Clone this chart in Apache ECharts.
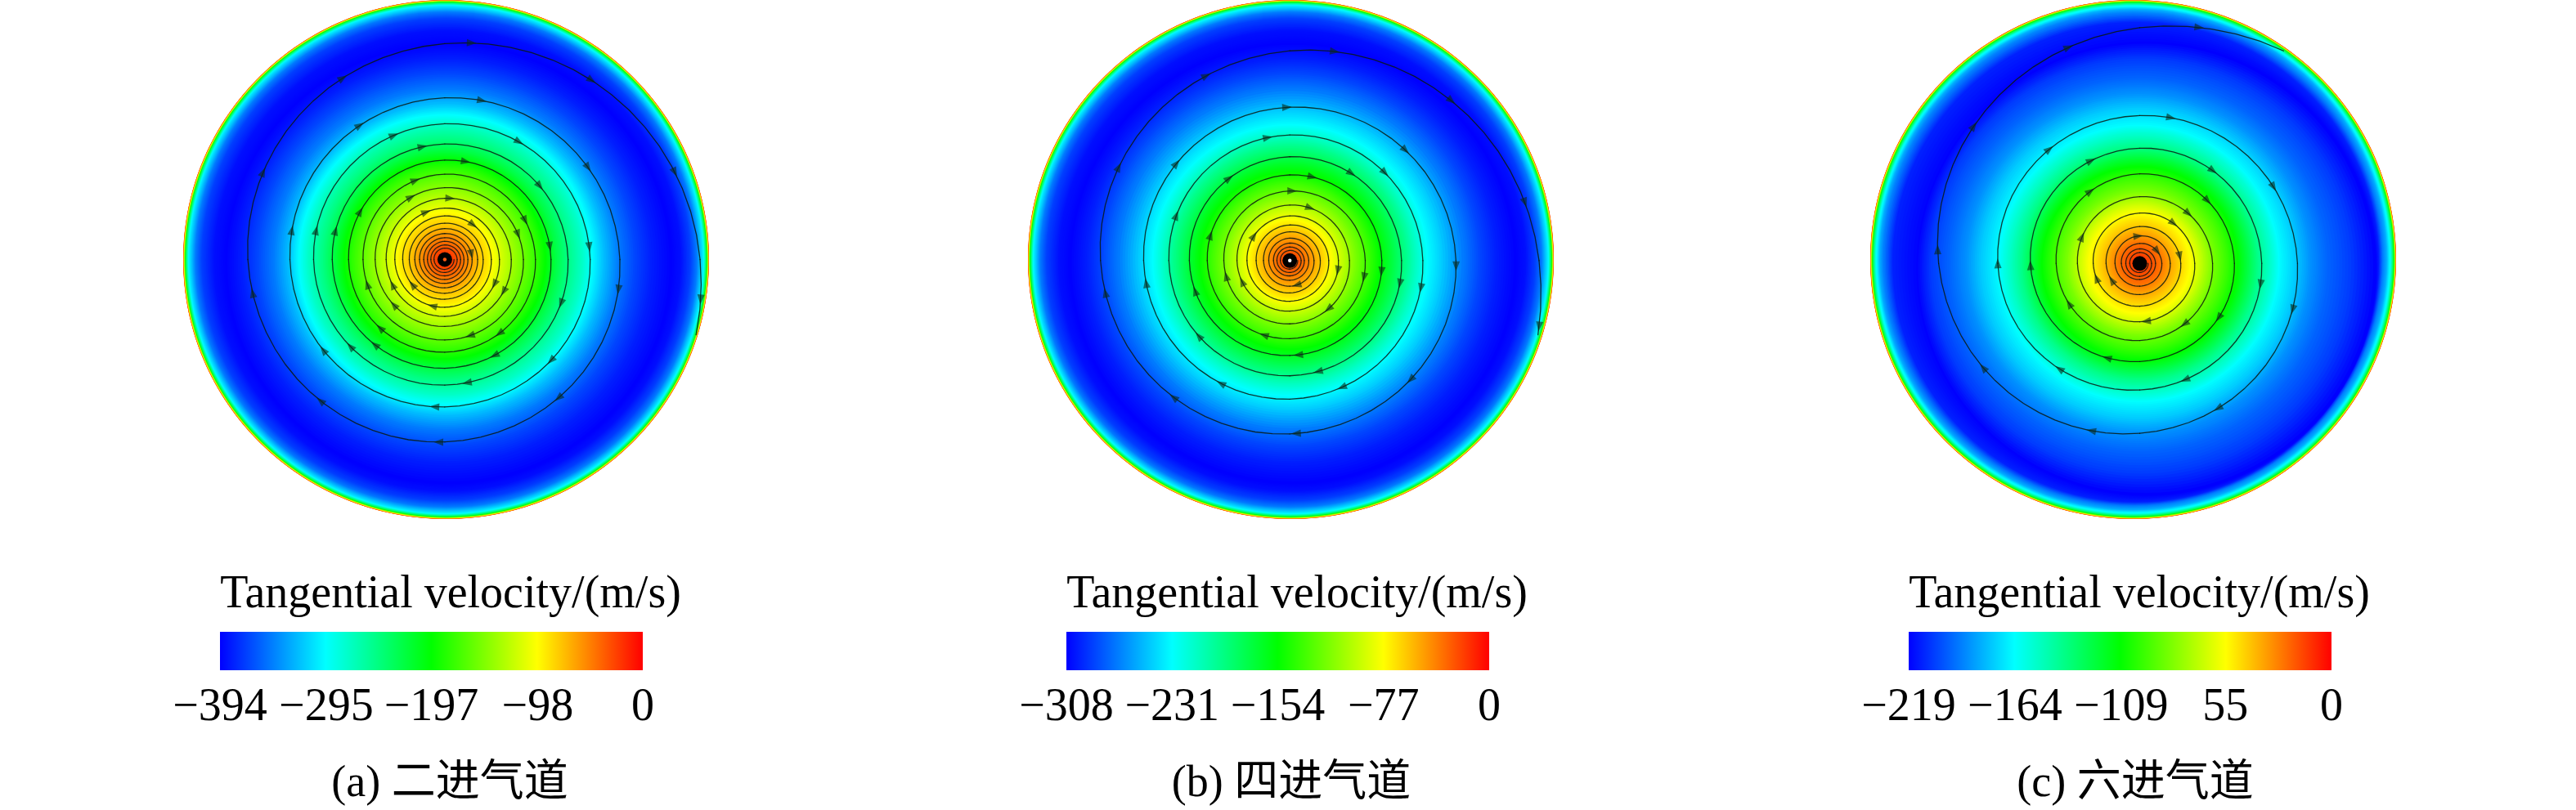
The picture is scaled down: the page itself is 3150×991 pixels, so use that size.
<!DOCTYPE html>
<html><head><meta charset="utf-8">
<style>html,body{margin:0;padding:0;background:#fff}#c{width:3150px;height:991px}</style>
<script src="https://cdn.jsdelivr.net/npm/echarts@6/dist/echarts.min.js"></script>
</head><body><div id="c"></div>
<script>
const captions = ['(a) 二进气道', '(b) 四进气道', '(c) 六进气道'];
const legendTitle = 'Tangential velocity/(m/s)';
const ticksA = [-394, -295, -197, -98, 0];
const ticksB = [-308, -231, -154, -77, 0];
const ticksC = [-219, -164, -109, -55, 0];
const tickLabelsA = ['−394', '−295', '−197', '−98', '0'];
const tickLabelsB = ['−308', '−231', '−154', '−77', '0'];
const tickLabelsC = ['−219', '−164', '−109', '55', '0'];
const colorStops = [[0, '#0000ff'], [0.25, '#00ffff'], [0.5, '#00ff00'], [0.75, '#ffff00'], [1, '#ff0000']];

// radius, colour level (0 = min velocity, 1 = 0 m/s), ring centre x, y; outermost first
const fieldA = [[1,.93],[.9975,.84],[.995,.64],[.99,.42],[.98,.24],[.955,.12],[.93,.06],[.89,.015,.005,.005],[.85,0,.01,.015],[.78,.03,.003,.005],[.72,.07],[.66,.12],[.60,.19],[.56,.25,-.002,0],[.52,.31,-.003,0],[.47,.37,-.004,0],[.42,.44,-.005,0],[.385,.5,-.005,0],[.35,.55,-.005,0],[.30,.61,-.005,0],[.25,.67,-.005,0],[.20,.73,-.005,0],[.17,.77,-.005,0],[.13,.81,-.005,0],[.10,.85,-.005,0],[.07,.89,-.005,0],[.04,.93,-.005,0],[0,.97,-.005,0]].map(r => [r[0], r[1], r[2] || 0, r[3] || 0]);
const fieldB = [[1,.93],[.9975,.84],[.995,.64],[.99,.42],[.98,.24],[.955,.12],[.93,.06],[.89,.015,.005,.005],[.85,0,.008,.015],[.78,.03,.003,.005],[.72,.07],[.66,.12],[.58,.2,-.002,.002],[.525,.25,-.003,.003],[.48,.31,-.004,.003],[.44,.37,-.004,.004],[.39,.44,-.004,.004],[.345,.5,-.004,.004],[.30,.56,-.004,.004],[.26,.61,-.004,.004],[.21,.68,-.004,.004],[.16,.75,-.004,.004],[.13,.79,-.004,.004],[.10,.83,-.004,.004],[.07,.87,-.004,.004],[.04,.91,-.004,.004],[0,.96,-.004,.004]].map(r => [r[0], r[1], r[2] || 0, r[3] || 0]);
const fieldC = [[1,.93],[.9975,.84],[.995,.64],[.99,.43],[.98,.27],[.965,.17],[.95,.12],[.925,.03,.01,.01],[.875,0,.05,.035],[.80,.06,.03,.025],[.72,.10,.02,.02],[.66,.14,.02,.015],[.60,.20,.02,.015],[.535,.25,.022,.015],[.50,.30,.025,.015],[.45,.37,.025,.015],[.41,.44,.025,.015],[.375,.5,.025,.015],[.33,.56,.025,.015],[.28,.62,.025,.015],[.23,.70,.025,.015],[.195,.75,.025,.015],[.15,.80,.025,.015],[.11,.85,.025,.015],[.08,.89,.025,.015],[.05,.92,.025,.015],[0,.97,.025,.015]].map(r => [r[0], r[1], r[2] || 0, r[3] || 0]);

// streamline radius every quarter turn, clockwise, starting at 3 o'clock at the vortex core
const spiralA = [.035,.038,.041,.044,.047,.05,.053,.056,.06,.063,.066,.07,.073,.077,.08,.084,.088,.092,.096,.1,.104,.109,.114,.119,.125,.13,.135,.14,.146,.153,.16,.168,.177,.184,.19,.198,.208,.219,.223,.236,.253,.258,.265,.277,.299,.31,.311,.329,.345,.357,.366,.383,.404,.419,.428,.445,.469,.484,.499,.523,.553,.568,.589,.623,.666,.703,.749,.832,.971,1.11];
const spiralB = [.03,.033,.036,.039,.043,.046,.049,.052,.055,.059,.062,.067,.072,.076,.08,.086,.092,.099,.1,.111,.116,.125,.128,.137,.148,.157,.163,.172,.185,.195,.201,.214,.227,.244,.251,.268,.287,.301,.314,.33,.35,.366,.382,.4,.425,.444,.46,.484,.506,.534,.556,.591,.632,.668,.72,.808,.948,1.16];
const spiralC = [.032,.035,.038,.042,.045,.05,.053,.056,.06,.062,.07,.077,.084,.088,.094,.106,.116,.12,.128,.142,.156,.165,.177,.194,.209,.225,.237,.257,.277,.297,.318,.345,.36,.378,.416,.444,.464,.488,.54,.57,.6,.655,.765,.908,1.1];

// arrowheads: clockwise angle from 12 o'clock, approximate radius
const arrowsA = [[7,.83],[331,.8],[296,.77],[260,.75],[221,.72],[182,.7],[141,.68],[100,.67],[69,.93],[39,.88],[99,.98],[13,.63],[328,.61],[281,.595],[233,.58],[184,.57],[134,.56],[85,.545],[57,.65],[338,.518],[32,.535],[283,.507],[227,.493],[170,.484],[111,.476],[52,.46],[349,.447],[285,.434],[219,.42],[153,.413],[83,.407],[12,.39],[300,.372],[223,.364],[144,.357],[64,.344],[340,.33],[228,.27],[162,.306],[71,.295],[332,.278],[5,.24],[252,.315],[244,.224],[195,.187],[119,.255],[117,.21],[339,.2],[39,.175],[232,.158],[79,.106]];
const arrowsB = [[12,.82],[336,.78],[299,.745],[260,.713],[220,.69],[178,.667],[135,.65],[92,.632],[45,.87],[76,.916],[105,.975],[359,.591],[311,.576],[261,.556],[209,.544],[158,.525],[102,.517],[46,.613],[350,.484],[292,.468],[230,.452],[166,.442],[102,.429],[47,.5],[35,.412],[324,.396],[252,.38],[175,.367],[97,.352],[15,.338],[288,.32],[199,.307],[103,.295],[2,.271],[256,.254],[142,.242],[102,.19],[21,.219],[305,.165],[246,.2],[165,.1]];
const arrowsC = [[14,.93],[342,.87],[310,.81],[274,.767],[236,.714],[196,.67],[152,.63],[107,.606],[60,.588],[12,.576],[322,.558],[270,.54],[217,.507],[159,.484],[100,.468],[38,.452],[335,.438],[269,.416],[199,.392],[125,.366],[47,.357],[326,.337],[240,.31],[174,.222],[144,.288],[44,.272],[295,.247],[251,.17],[239,.131],[80,.156],[40,.2],[357,.106],[55,.085]];

// vortex centre and core dot for each panel
const vortexA = [-.005, 0, '#ff5a10'];
const vortexB = [-.004, .004, '#ffffff'];
const vortexC = [.025, .015, '#000000'];

const panels = [
  {field: fieldA, spiral: spiralA, arrows: arrowsA, vortex: vortexA, ticks: ticksA, labels: tickLabelsA, disc: 224, bar: 269, title: 546, cap: 545},
  {field: fieldB, spiral: spiralB, arrows: arrowsB, vortex: vortexB, ticks: ticksB, labels: tickLabelsB, disc: 1257, bar: 1304, title: 1581, cap: 1574},
  {field: fieldC, spiral: spiralC, arrows: arrowsC, vortex: vortexC, ticks: ticksC, labels: tickLabelsC, disc: 2287, bar: 2334, title: 2611, cap: 2606}
];

const serif = '"Liberation Serif","Times New Roman",serif';
const rgb = h => [1, 3, 5].map(i => parseInt(h.substr(i, 2), 16));
function levelColor(l) {
  l = Math.max(0, Math.min(1, l));
  for (let i = 1; i < colorStops.length; i++) {
    if (l <= colorStops[i][0]) {
      const a = colorStops[i - 1], b = colorStops[i], u = (l - a[0]) / (b[0] - a[0]);
      const ca = rgb(a[1]), cb = rgb(b[1]);
      return 'rgb(' + ca.map((v, k) => Math.round(v + (cb[k] - v) * u)).join(',') + ')';
    }
  }
  return colorStops[colorStops.length - 1][1];
}
function spiralR(sp, s) {
  const i = Math.max(0, Math.min(sp.length - 2, Math.floor(s))), u = s - i;
  const p0 = sp[Math.max(0, i - 1)], p1 = sp[i], p2 = sp[i + 1], p3 = sp[Math.min(sp.length - 1, i + 2)];
  return 0.5 * (2 * p1 + (p2 - p0) * u + (2 * p0 - 5 * p1 + 4 * p2 - p3) * u * u + (3 * p1 - p0 - 3 * p2 + p3) * u * u * u);
}
function spiralPt(p, s) {
  const a = (90 + s * 90) * Math.PI / 180, r = spiralR(p.spiral, s);
  return [p.vortex[0] + r * Math.sin(a), p.vortex[1] - r * Math.cos(a)];
}

const grid = [], xAxis = [], yAxis = [], series = [], title = [];
panels.forEach((p, n) => {
  const g1 = grid.length;
  grid.push({left: p.disc, top: -1, width: 643, height: 636});
  xAxis.push({type: 'value', gridIndex: g1, min: -1, max: 1, show: false});
  yAxis.push({type: 'value', gridIndex: g1, min: -1, max: 1, inverse: true, show: false});
  const common = {type: 'custom', xAxisIndex: g1, yAxisIndex: g1, silent: true, animation: false, clip: false};

  series.push(Object.assign({}, common, {
    name: 'field' + n, data: p.field,
    encode: {x: 2, y: 3},
    renderItem(params, api) {
      const i = params.dataIndex, cur = p.field[i], prev = p.field[Math.max(0, i - 1)];
      const steps = i === 0 ? 1 : 8, children = [];
      for (let k = 1; k <= steps; k++) {
        const u = i === 0 ? 1 : k / steps;
        const t = prev[0] + (cur[0] - prev[0]) * u, lv = prev[1] + (cur[1] - prev[1]) * u;
        const cx = prev[2] + (cur[2] - prev[2]) * u, cy = prev[3] + (cur[3] - prev[3]) * u;
        if (t <= 0) continue;
        const c = api.coord([cx, cy]), s = api.size([t, t]);
        children.push({type: 'ellipse', shape: {cx: c[0], cy: c[1], rx: s[0], ry: s[1]}, style: {fill: levelColor(lv)}});
      }
      return {type: 'group', children};
    }
  }));

  series.push(Object.assign({}, common, {
    name: 'streamline' + n, data: p.spiral.map((r, i) => [i, r]),
    encode: {x: 0, y: 1},
    renderItem(params, api) {
      const i = params.dataIndex;
      if (i >= p.spiral.length - 1) return null;
      const pts = [];
      for (let k = 0; k <= 16; k++) {
        const q = spiralPt(p, i + k / 16);
        if (Math.hypot(q[0], q[1]) > 0.997) break;
        pts.push(api.coord(q));
      }
      if (pts.length < 2) return null;
      return {type: 'polyline', shape: {points: pts}, style: {fill: 'none', stroke: '#0a1a10', lineWidth: 1.3, opacity: 0.85, lineCap: 'round'}};
    }
  }));

  series.push(Object.assign({}, common, {
    name: 'arrows' + n, data: p.arrows,
    encode: {x: 0, y: 1},
    renderItem(params, api) {
      const ar = p.arrows[params.dataIndex];
      let best = null, bd = 9;
      for (let k = 0; k < p.spiral.length; k += 4) {
        for (const off of [-4, 0]) {
          const s = k + off + ((ar[0] - 90 + 360) % 360) / 90;
          if (s < 0 || s > p.spiral.length - 1) continue;
          const d = Math.abs(spiralR(p.spiral, s) - ar[1]);
          if (d < bd) { bd = d; best = s; }
        }
      }
      if (best === null) return null;
      const a = api.coord(spiralPt(p, best)), b = api.coord(spiralPt(p, best + 0.02));
      const len = Math.hypot(b[0] - a[0], b[1] - a[1]) || 1;
      const ux = (b[0] - a[0]) / len, uy = (b[1] - a[1]) / len, L = 12, W = 4.5;
      return {type: 'polygon', shape: {points: [
        [a[0] + ux * L * .5, a[1] + uy * L * .5],
        [a[0] - ux * L * .5 - uy * W, a[1] - uy * L * .5 + ux * W],
        [a[0] - ux * L * .5 + uy * W, a[1] - uy * L * .5 - ux * W]
      ]}, style: {fill: '#0a2a18', opacity: 0.6}};
    }
  }));

  series.push(Object.assign({}, common, {
    name: 'core' + n, data: [p.vortex.slice(0, 2)],
    encode: {x: 0, y: 1},
    renderItem(params, api) {
      const c = api.coord([p.vortex[0], p.vortex[1]]);
      return {type: 'group', children: [
        {type: 'circle', shape: {cx: c[0], cy: c[1], r: 9}, style: {fill: '#000'}},
        {type: 'circle', shape: {cx: c[0], cy: c[1], r: 2.2}, style: {fill: p.vortex[2]}}
      ]};
    }
  }));

  const g2 = grid.length, lo = p.ticks[0];
  grid.push({left: p.bar, top: 773, width: 517, height: 47});
  xAxis.push({
    type: 'value', gridIndex: g2, min: lo, max: 0, splitLine: {show: false},
    axisLine: {show: false}, axisTick: {show: false},
    axisLabel: {
      show: true, customValues: p.ticks, margin: 18, hideOverlap: false,
      fontFamily: serif, fontSize: 56, color: '#000',
      formatter: v => p.labels[p.ticks.indexOf(v)]
    }
  });
  yAxis.push({type: 'value', gridIndex: g2, min: 0, max: 1, show: false});
  series.push({
    type: 'custom', name: 'bar' + n, xAxisIndex: g2, yAxisIndex: g2, silent: true, animation: false, clip: false,
    data: [[lo, 1, 0, 0]], encode: {x: [0, 2], y: [1, 3]},
    renderItem(params, api) {
      const a = api.coord([api.value(0), 1]), b = api.coord([0, 0]);
      return {type: 'rect', shape: {x: a[0], y: a[1], width: b[0] - a[0], height: b[1] - a[1]}, style: {
        fill: new echarts.graphic.LinearGradient(0, 0, 1, 0, colorStops.map(s => ({offset: s[0], color: s[1]})))
      }};
    }
  });

  title.push({text: legendTitle, left: p.title, top: 695, textAlign: 'center',
    textStyle: {fontFamily: serif, fontSize: 56, fontWeight: 'normal', color: '#000'}});
  title.push({text: captions[n], left: p.cap, top: 928, textAlign: 'center',
    textStyle: {fontFamily: serif + ',"Noto Sans CJK SC"', fontSize: 54, fontWeight: 'normal', color: '#000'}});
});

const chart = echarts.init(document.getElementById('c'), null, {renderer: 'canvas', width: 3150, height: 991});
chart.setOption({backgroundColor: '#fff', animation: false, grid, xAxis, yAxis, series, title, tooltip: {show: false}});
</script></body></html>
